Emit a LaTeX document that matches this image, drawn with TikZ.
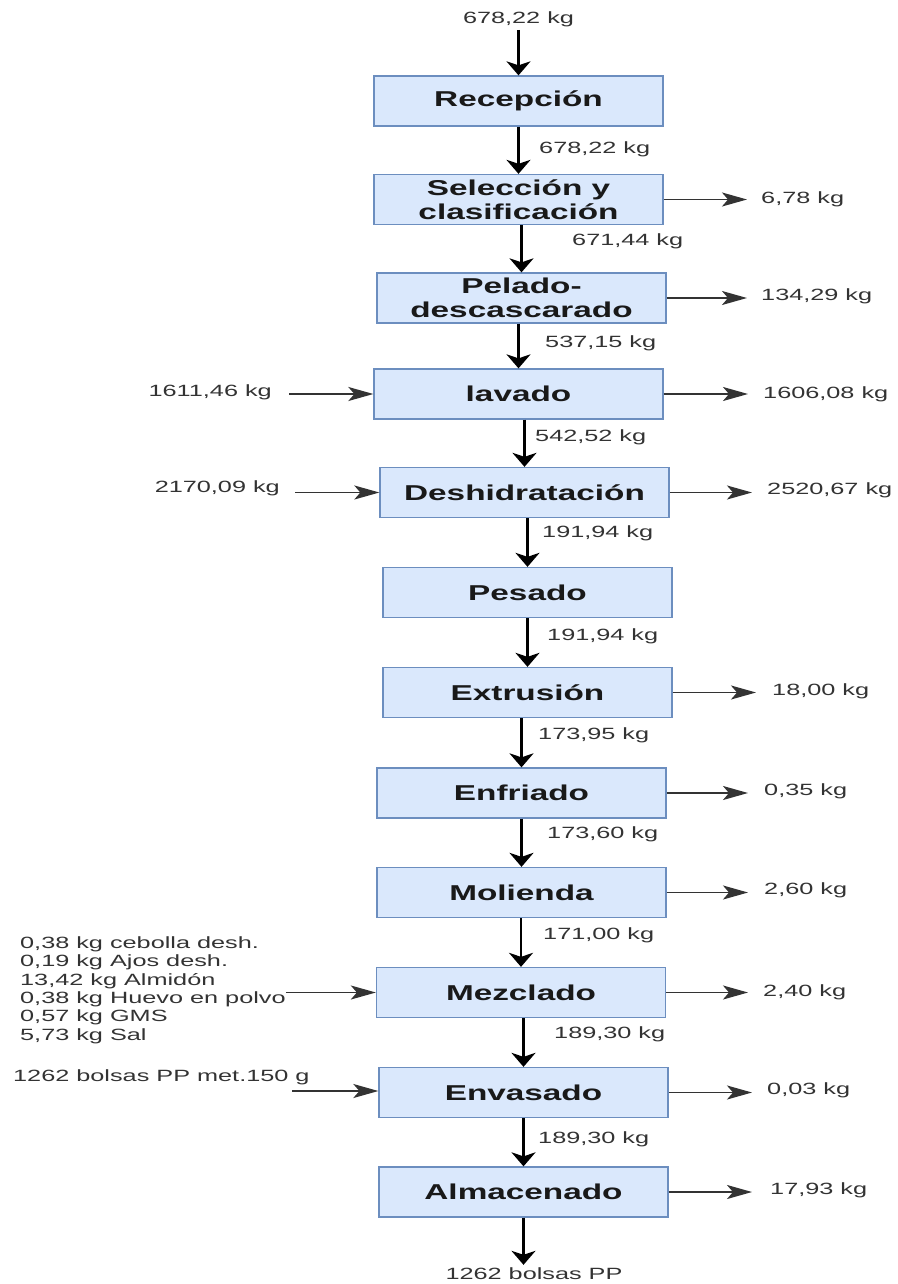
\documentclass[tikz,border=0pt]{standalone}
\usepackage{fontspec}
\setmainfont{Liberation Sans}[FakeStretch=1.55]
\usetikzlibrary{arrows.meta}
\definecolor{boxfill}{HTML}{DAE8FC}
\definecolor{boxline}{HTML}{6C8EBF}
\definecolor{qtytext}{HTML}{333333}

\begin{document}
\begin{tikzpicture}[x=1pt,y=-1pt,
  stage/.style={draw=boxline, fill=boxfill, line width=1.3pt,
    minimum width=289pt, minimum height=50pt, inner sep=0pt, align=center,
    font=\fontsize{21.5}{24}\selectfont\bfseries, text=black!90},
  qty/.style={font=\fontsize{16.3}{18.4}\selectfont, text=qtytext, inner sep=0pt},
  flow/.style={line width=2.4pt, -{Stealth[length=14pt,width=24pt,inset=4pt]}},
  side/.style={line width=1.8pt, draw=black!80,
    -{Stealth[length=25pt,width=14pt,inset=6pt]}}]

\useasboundingbox (0,0) rectangle (897,1284);

% process stages
\node[stage] (rec) at (518.5,101)  {Recepción};
\node[stage] (sel) at (518.5,199.5){Selección y\\clasificación};
\node[stage] (pel) at (521.5,298)  {Pelado-\\descascarado};
\node[stage] (lav) at (518.5,394)  {lavado};
\node[stage] (des) at (524.5,492.5){Deshidratación};
\node[stage] (pes) at (527.5,592.5){Pesado};
\node[stage] (ext) at (527.5,692.5){Extrusión};
\node[stage] (enf) at (521.5,793)  {Enfriado};
\node[stage] (mol) at (521.5,892.5){Molienda};
\node[stage] (mez) at (521,992.5)  {Mezclado};
\node[stage] (env) at (523.5,1092.5){Envasado};
\node[stage] (alm) at (523.5,1192) {Almacenado};

% feed and product
\node[qty] (feed) at (518.5,19) {678,22 kg};
\node[qty] (prod) at (534,1274) {1262 bolsas PP};
\draw[flow, shorten <=3pt] (feed.south) -- (rec.north);
\draw[flow, shorten >=3pt] (alm.south) -- (alm.south |- prod.north);

% main line
\draw[flow] (sel.north |- rec.south) -- (sel.north);
\draw[flow] (pel.north |- sel.south) -- (pel.north);
\draw[flow] (lav.north |- pel.south) -- (lav.north);
\draw[flow] (des.north |- lav.south) -- (des.north);
\draw[flow] (pes.north |- des.south) -- (pes.north);
\draw[flow] (ext.north |- pes.south) -- (ext.north);
\draw[flow] (enf.north |- ext.south) -- (enf.north);
\draw[flow] (mol.north |- enf.south) -- (mol.north);
\draw[flow] (mez.north |- mol.south) -- (mez.north);
\draw[flow] (env.north |- mez.south) -- (env.north);
\draw[flow] (alm.north |- env.south) -- (alm.north);

% quantities along the main line
\node[qty, anchor=west] (q1)  at (539,149)  {678,22 kg};
\node[qty, anchor=west] (q2)  at (572,241)  {671,44 kg};
\node[qty, anchor=west] (q3)  at (545,343)  {537,15 kg};
\node[qty, anchor=west] (q4)  at (535,437)  {542,52 kg};
\node[qty, anchor=west] (q5)  at (542,533)  {191,94 kg};
\node[qty, anchor=west] (q6)  at (547,636)  {191,94 kg};
\node[qty, anchor=west] (q7)  at (538,735)  {173,95 kg};
\node[qty, anchor=west] (q8)  at (547,834)  {173,60 kg};
\node[qty, anchor=west] (q9)  at (543,935)  {171,00 kg};
\node[qty, anchor=west] (q10) at (554,1034) {189,30 kg};
\node[qty, anchor=west] (q11) at (538,1139) {189,30 kg};

% outgoing streams
\node[qty, anchor=west] (o1)  at (761,199.5) {6,78 kg};
\node[qty, anchor=west] (o2)  at (761,296)   {134,29 kg};
\node[qty, anchor=west] (o3)  at (763,394)   {1606,08 kg};
\node[qty, anchor=west] (o4)  at (767,490)   {2520,67 kg};
\node[qty, anchor=west] (o5)  at (772,691)   {18,00 kg};
\node[qty, anchor=west] (o6)  at (764,791)   {0,35 kg};
\node[qty, anchor=west] (o7)  at (764,890)   {2,60 kg};
\node[qty, anchor=west] (o8)  at (763,992)   {2,40 kg};
\node[qty, anchor=west] (o9)  at (767,1090)  {0,03 kg};
\node[qty, anchor=west] (o10) at (770,1190)  {17,93 kg};

\draw[side, shorten >=14pt] (sel.east) -- (sel.east -| o1.west);
\draw[side, shorten >=14pt] (pel.east) -- (pel.east -| o2.west);
\draw[side, shorten >=15pt] (lav.east) -- (lav.east -| o3.west);
\draw[side, shorten >=15pt] (des.east) -- (des.east -| o4.west);
\draw[side, shorten >=16pt] (ext.east) -- (ext.east -| o5.west);
\draw[side, shorten >=16pt] (enf.east) -- (enf.east -| o6.west);
\draw[side, shorten >=16pt] (mol.east) -- (mol.east -| o7.west);
\draw[side, shorten >=15pt] (mez.east) -- (mez.east -| o8.west);
\draw[side, shorten >=15pt] (env.east) -- (env.east -| o9.west);
\draw[side, shorten >=18pt] (alm.east) -- (alm.east -| o10.west);

% incoming streams
\node[qty, anchor=east] (i1) at (272,392) {1611,46 kg};
\node[qty, anchor=east] (i2) at (280,488) {2170,09 kg};
\node[qty, anchor=west, align=left] (i3) at (20,990)
  {0,38 kg cebolla desh.\\0,19 kg Ajos desh.\\13,42 kg Almidón\\0,38 kg Huevo en polvo\\0,57 kg GMS\\5,73 kg Sal};
\node[qty, anchor=west] (i4) at (13,1077) {1262 bolsas PP met.150 g};
\coordinate (i4a) at (292,1091);

\draw[side, shorten <=17pt] (lav.west -| i1.east) -- (lav.west);
\draw[side, shorten <=15pt] (des.west -| i2.east) -- (des.west);
\draw[side] (mez.west -| i3.east) -- (mez.west);
\draw[side] (i4a) -- (i4a -| env.west);

\end{tikzpicture}
\end{document}
